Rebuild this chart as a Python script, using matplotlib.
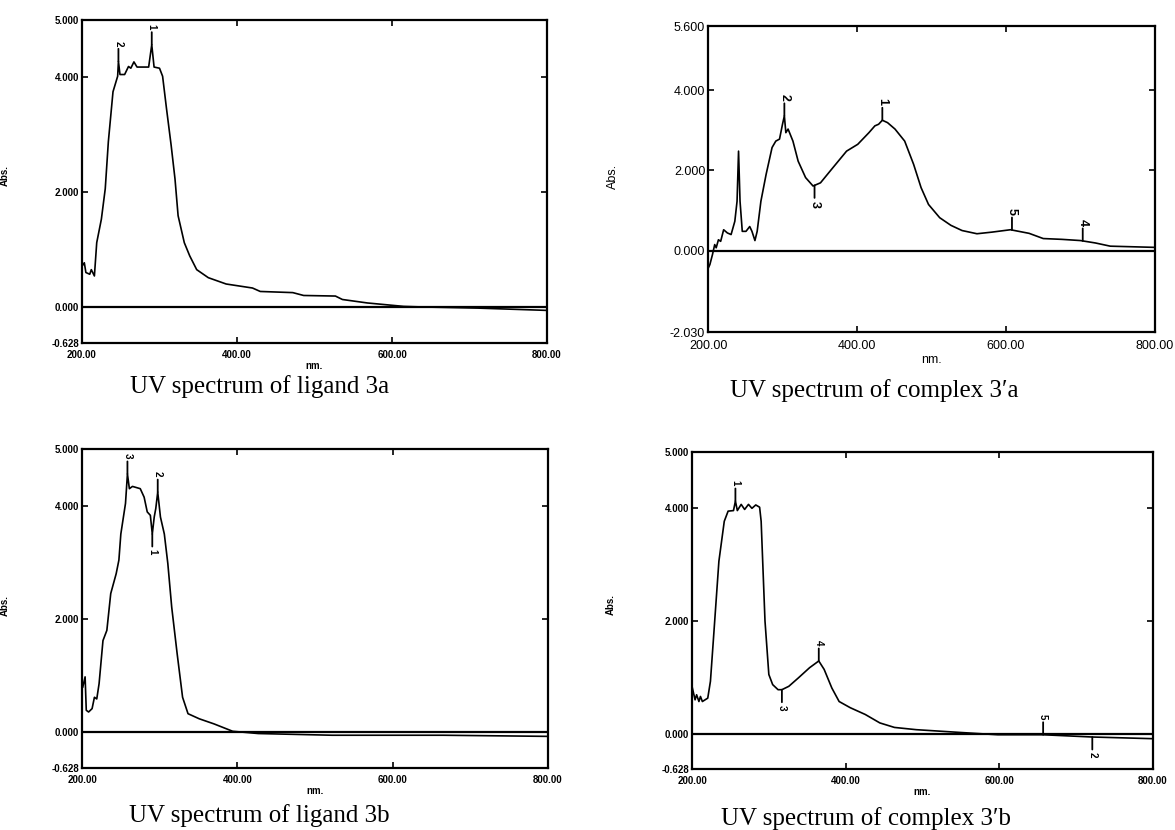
import numpy as np
import matplotlib
matplotlib.use('Agg')
import matplotlib.pyplot as plt
from matplotlib import font_manager

# ---- data ----

# ligand 3a
lig3a_nm = [200, 203, 205, 210, 212, 216, 219, 225, 230, 234, 240, 246, 247, 249, 255, 260, 263, 267,
            271, 286, 290, 293, 300, 304, 309, 315, 320, 324, 332, 339, 348, 363, 386, 420, 430, 472,
            486, 527, 536, 568, 615, 639, 711, 800]
lig3a_abs = [0.71, 0.77, 0.60, 0.57, 0.65, 0.54, 1.12, 1.53, 2.06, 2.88, 3.75, 4.02, 4.28, 4.05, 4.05,
             4.19, 4.16, 4.27, 4.18, 4.18, 4.57, 4.18, 4.16, 4.02, 3.46, 2.82, 2.23, 1.59, 1.12, 0.89,
             0.65, 0.51, 0.40, 0.33, 0.27, 0.25, 0.20, 0.19, 0.13, 0.07, 0.01, 0.0, -0.02, -0.06]
lig3a_marks = [247, 290]
lig3a_labels = ['2', '1']
lig3a_dirs = [1, 1]

# complex 3'a
com3a_nm = [200.5, 202.5, 206, 209, 211, 214, 217, 221, 226, 231, 236, 239, 241, 243, 246, 251, 256,
            259, 263, 266, 271, 278, 286, 291, 296, 300, 302.5, 304.5, 307.5, 314, 321, 331, 341, 351,
            366, 386, 401, 416, 424, 429, 434, 441, 451, 464, 476, 486, 496, 511, 526, 541, 561, 581,
            606, 631, 650, 675, 700, 720, 740, 800]
com3a_abs = [-0.43, -0.35, -0.10, 0.15, 0.07, 0.27, 0.23, 0.52, 0.44, 0.40, 0.73, 1.23, 2.48, 1.23,
             0.48, 0.48, 0.60, 0.48, 0.25, 0.48, 1.23, 1.90, 2.57, 2.73, 2.78, 3.15, 3.36, 2.94, 3.03,
             2.73, 2.23, 1.82, 1.61, 1.69, 2.03, 2.48, 2.65, 2.94, 3.11, 3.15, 3.25, 3.19, 3.03, 2.73,
             2.15, 1.57, 1.15, 0.82, 0.63, 0.50, 0.42, 0.46, 0.52, 0.43, 0.30, 0.28, 0.25, 0.19, 0.11,
             0.08]
com3a_marks = [302.5, 434, 343, 608, 703]
com3a_labels = ['2', '1', '3', '5', '4']
com3a_dirs = [1, 1, -1, 1, 1]

# ligand 3b
lig3b_nm = [201, 204, 205.5, 208.5, 213, 216, 219, 222, 227, 232, 237, 244, 247.5, 250, 256, 258.5,
            261, 265, 275, 280, 284, 288, 290.5, 293, 295, 297.5, 301, 306, 310.5, 315.5, 322.5, 329.5,
            336.5, 351, 370, 394, 427, 522, 665, 800]
lig3b_abs = [0.80, 0.98, 0.39, 0.36, 0.42, 0.62, 0.59, 0.86, 1.62, 1.80, 2.45, 2.80, 3.04, 3.50, 4.04,
             4.56, 4.30, 4.34, 4.30, 4.15, 3.89, 3.83, 3.50, 3.80, 3.95, 4.24, 3.80, 3.50, 2.98, 2.21,
             1.39, 0.62, 0.33, 0.24, 0.15, 0.02, -0.02, -0.05, -0.05, -0.07]
lig3b_marks = [258.5, 297.5, 290.5]
lig3b_labels = ['3', '2', '1']
lig3b_dirs = [1, 1, -1]

# complex 3'b
com3b_nm = [200.5, 204, 206, 209, 211, 213.5, 220.5, 224, 228, 235, 242, 247, 254, 256.5, 259, 264,
            268.5, 273.5, 278, 283, 288, 290, 295, 300, 305, 312, 317, 326, 338.5, 353, 365, 372, 382,
            391.5, 406, 425.5, 444.5, 463.5, 492, 550, 598, 657, 721, 800]
com3b_abs = [0.81, 0.60, 0.69, 0.57, 0.66, 0.57, 0.63, 0.93, 1.70, 3.06, 3.77, 3.95, 3.96, 4.13, 3.96,
             4.07, 3.98, 4.07, 4.00, 4.06, 4.02, 3.77, 2.00, 1.05, 0.87, 0.78, 0.78, 0.84, 0.99, 1.17,
             1.29, 1.14, 0.81, 0.57, 0.46, 0.34, 0.19, 0.11, 0.07, 0.02, -0.02, -0.02, -0.06, -0.09]
com3b_marks = [256.5, 365, 317, 657, 721]
com3b_labels = ['1', '4', '3', '5', '2']
com3b_dirs = [1, 1, -1, 1, -1]

x_ticks = [200, 400, 600, 800]
y_ticks_a = [5.0, 4.0, 2.0, 0.0, -0.628]
y_ticks_b = [5.6, 4.0, 2.0, 0.0, -2.03]

captions = ['UV spectrum of ligand 3a', 'UV spectrum of complex 3\u2032a',
            'UV spectrum of ligand 3b', 'UV spectrum of complex 3\u2032b']

# ---- fonts ----
names = set(f.name for f in font_manager.fontManager.ttflist)
if 'Liberation Sans Narrow' in names:
    small_font = ['Liberation Sans Narrow', 'DejaVu Sans']
    small_size = 7.5
else:
    small_font = ['Liberation Sans', 'DejaVu Sans']
    small_size = 7
serif_font = ['Liberation Serif', 'DejaVu Serif']

W, H = 1175, 830
fig = plt.figure(figsize=(W / 100, H / 100), dpi=100)
fig.patch.set_facecolor('white')


def px_axes(left, right, top, bottom):
    return fig.add_axes([left / W, 1 - bottom / H, (right - left) / W, (bottom - top) / H])


def draw_panel(ax, nm, ab, yticks, marks, labels, dirs, big, ylab_xy):
    if big:
        fam, fs, fw, xpad = ['Liberation Sans', 'DejaVu Sans'], 9, 'normal', 6
    else:
        fam, fs, fw, xpad = small_font, small_size, 'bold', 5
    ax.plot(nm, ab, color='black', lw=1.2)
    ax.axhline(0, color='black', lw=1.6)
    ax.set_xlim(200, 800)
    ax.set_ylim(yticks[-1], yticks[0])
    ax.set_xticks(x_ticks)
    ax.set_xticklabels(['%.2f' % v for v in x_ticks])
    ax.set_yticks(yticks)
    ax.set_yticklabels(['%.3f' % v for v in yticks])
    ax.tick_params(direction='in', length=4, width=1.2, top=True, right=True)
    ax.tick_params(axis='y', pad=2)
    ax.tick_params(axis='x', pad=xpad)
    for lab in ax.get_xticklabels() + ax.get_yticklabels():
        lab.set_family(fam)
        lab.set_size(fs)
        lab.set_weight(fw)
    for sp in ax.spines.values():
        sp.set_linewidth(1.6)
    ax.set_xlabel('nm.', family=fam, fontsize=fs, fontweight=fw, labelpad=1)
    ax.set_ylabel('Abs.', family=fam, fontsize=fs, fontweight=fw)
    ax.yaxis.set_label_coords(ylab_xy[0], ylab_xy[1])
    # peak pick markers
    for m, lbl, d in zip(marks, labels, dirs):
        yv = np.interp(m, nm, ab)
        ax.annotate(lbl, xy=(m, yv), xytext=(0, 11 * d), textcoords='offset points',
                    ha='center', va='bottom' if d > 0 else 'top', rotation=270,
                    family=fam, fontsize=fs, fontweight='bold',
                    arrowprops=dict(arrowstyle='-', lw=1.3, color='black', shrinkA=0, shrinkB=0))


ax1 = px_axes(82, 547, 20, 343)
draw_panel(ax1, lig3a_nm, lig3a_abs, y_ticks_a, lig3a_marks, lig3a_labels, lig3a_dirs, False, (-0.155, 0.52))

ax2 = px_axes(708, 1155, 26, 332)
draw_panel(ax2, com3a_nm, com3a_abs, y_ticks_b, com3a_marks, com3a_labels, com3a_dirs, True, (-0.2, 0.51))

ax3 = px_axes(82, 548, 449, 768)
draw_panel(ax3, lig3b_nm, lig3b_abs, y_ticks_a, lig3b_marks, lig3b_labels, lig3b_dirs, False, (-0.155, 0.51))

ax4 = px_axes(692, 1153, 452, 769)
draw_panel(ax4, com3b_nm, com3b_abs, y_ticks_a, com3b_marks, com3b_labels, com3b_dirs, False, (-0.165, 0.52))

# captions under each spectrum
cap_pos = [(130, 393), (730, 397), (129, 822), (721, 825)]
for txt, (cx, cy) in zip(captions, cap_pos):
    fig.text(cx / W, 1 - cy / H, txt, family=serif_font, fontsize=18, ha='left', va='baseline')

fig.savefig('out.png', dpi=100, facecolor='white')
print('done')
